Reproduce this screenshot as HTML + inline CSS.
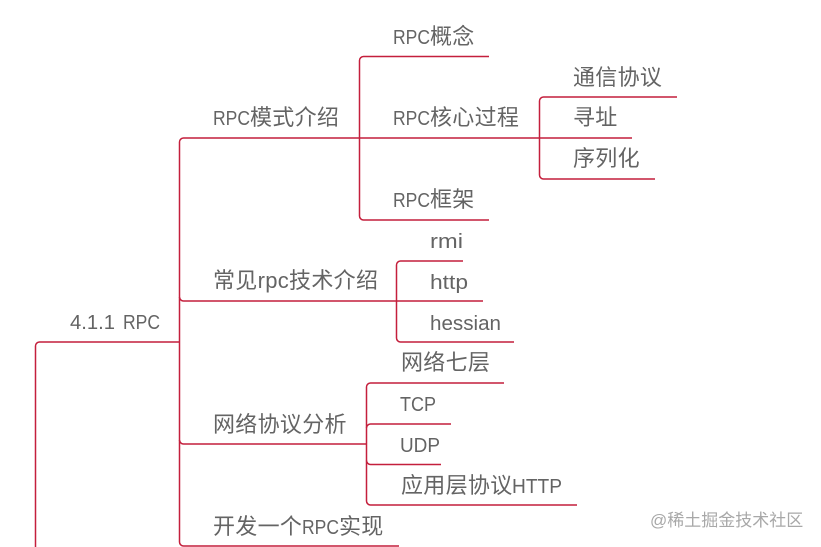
<!DOCTYPE html>
<html><head><meta charset="utf-8"><style>
html,body{margin:0;padding:0;background:#fff}
svg{display:block;filter:blur(.35px)}
text{font-family:"Liberation Sans","Noto Sans CJK SC",sans-serif;font-size:22px;fill:#646464;letter-spacing:.3px}
text.l{font-size:20px;letter-spacing:0}
path{fill:none;stroke:#c41f3c;stroke-width:1.5}
</style></head><body>
<svg width="821" height="547" viewBox="0 0 821 547" xmlns="http://www.w3.org/2000/svg">
<path d="M35.5 547V346a4 4 0 0 1 4-4H179.5"/>
<path d="M179.5 342V142a4 4 0 0 1 4-4H632"/>
<path d="M179.5 297a4 4 0 0 0 4 4H483"/>
<path d="M179.5 342V440a4 4 0 0 0 4 4H366.5"/>
<path d="M179.5 440V542a4 4 0 0 0 4 4H399"/>
<path d="M489 56.5H363.5a4 4 0 0 0-4 4V216a4 4 0 0 0 4 4H489"/>
<path d="M677 97H543.5a4 4 0 0 0-4 4V175a4 4 0 0 0 4 4H655"/>
<path d="M463 261H400.5a4 4 0 0 0-4 4V338a4 4 0 0 0 4 4H514"/>
<path d="M504 383H370.5a4 4 0 0 0-4 4V501a4 4 0 0 0 4 4H577"/>
<path d="M451 424H370.5a4 4 0 0 0-4 4"/>
<path d="M441 464.5H370.5a4 4 0 0 1-4-4"/>
<text class="l" x="70" y="329" textLength="45" lengthAdjust="spacingAndGlyphs">4.1.1</text>
<text class="l" x="123" y="329" textLength="37" lengthAdjust="spacingAndGlyphs">RPC</text>
<text class="l" x="213" y="125" textLength="37" lengthAdjust="spacingAndGlyphs">RPC</text>
<text x="250" y="125">模式介绍</text>
<text x="213" y="288">常见rpc技术介绍</text>
<text x="213" y="432">网络协议分析</text>
<text x="213" y="534">开发一个</text>
<text class="l" x="302" y="534" textLength="37" lengthAdjust="spacingAndGlyphs">RPC</text>
<text x="339" y="534">实现</text>
<text class="l" x="393" y="44" textLength="37" lengthAdjust="spacingAndGlyphs">RPC</text>
<text x="430" y="44">概念</text>
<text class="l" x="393" y="125" textLength="37" lengthAdjust="spacingAndGlyphs">RPC</text>
<text x="430" y="125">核心过程</text>
<text class="l" x="393" y="207" textLength="37" lengthAdjust="spacingAndGlyphs">RPC</text>
<text x="430" y="207">框架</text>
<text x="573" y="85">通信协议</text>
<text x="573" y="125">寻址</text>
<text x="573" y="166">序列化</text>
<text class="l" x="430" y="248" textLength="33" lengthAdjust="spacingAndGlyphs">rmi</text>
<text class="l" x="430" y="289" textLength="38" lengthAdjust="spacingAndGlyphs">http</text>
<text class="l" x="430" y="330" textLength="71" lengthAdjust="spacingAndGlyphs">hessian</text>
<text x="401" y="370">网络七层</text>
<text class="l" x="400" y="411" textLength="36" lengthAdjust="spacingAndGlyphs">TCP</text>
<text class="l" x="400" y="452" textLength="40" lengthAdjust="spacingAndGlyphs">UDP</text>
<text x="401" y="493">应用层协议</text>
<text class="l" x="512" y="493" textLength="50" lengthAdjust="spacingAndGlyphs">HTTP</text>
<text x="650" y="526" style="font-size:17px;fill:#a8a8a8;letter-spacing:0">@稀土掘金技术社区</text>
</svg>
</body></html>
